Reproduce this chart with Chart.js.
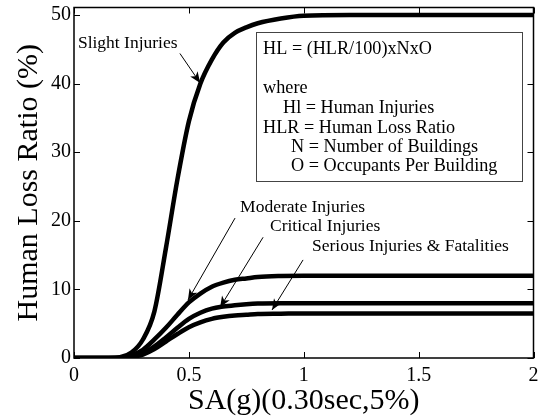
<!DOCTYPE html>
<html>
<head>
<meta charset="utf-8">
<script src="https://cdn.jsdelivr.net/npm/chart.js@4/dist/chart.umd.min.js"></script>
<style>
  body { margin: 0; background: #fff; }
  canvas { display: block; }
</style>
</head>
<body>
<canvas id="chart" width="541" height="416"></canvas>
<script>
// ── data ─────────────────────────────────────────────────
const saValues   = [0, 0.1, 0.15, 0.2, 0.25, 0.3, 0.35, 0.4, 0.45, 0.5, 0.55, 0.6, 0.65, 0.7, 0.75, 0.8, 0.9, 1.0, 1.2, 1.5, 2.0];
const slight     = [0, 0, 0, 0.1, 0.8, 2.7, 6.8, 16, 26, 34.5, 40, 43.5, 46, 47.4, 48.2, 48.8, 49.5, 49.9, 50, 50, 50];
const moderate   = [0, 0, 0, 0, 0.4, 1.2, 2.7, 4.4, 6.3, 8.1, 9.4, 10.4, 11.0, 11.4, 11.6, 11.8, 11.95, 12, 12, 12, 12];
const critical   = [0, 0, 0, 0, 0.2, 0.7, 1.7, 3.0, 4.4, 5.7, 6.6, 7.2, 7.5, 7.7, 7.85, 7.95, 8, 8, 8, 8, 8];
const serious    = [0, 0, 0, 0, 0.15, 0.5, 1.3, 2.4, 3.5, 4.5, 5.2, 5.7, 6.0, 6.2, 6.3, 6.4, 6.45, 6.5, 6.5, 6.5, 6.5];
const xTicks     = [0, 0.5, 1, 1.5, 2];
const yTicks     = [0, 10, 20, 30, 40, 50];

const SERIF = '"Liberation Serif", "Times New Roman", serif';

// ── labels + arrows (data coordinates) ───────────────────
const callouts = [
    { text: 'Slight Injuries',              at: [0.017, 45.9], from: [0.461, 44.4], to: [0.549, 40.1] },
    { text: 'Moderate Injuries',            at: [0.723, 22.0], from: [0.701, 20.4], to: [0.496, 8.45] },
    { text: 'Critical Injuries',            at: [0.853, 19.2], from: [0.823, 17.6], to: [0.636, 7.4] },
    { text: 'Serious Injuries & Fatalities', at: [1.036, 16.2], from: [0.997, 14.3], to: [0.862, 7.0] }
];
const noteBox   = { x0: 0.792, y0: 47.6, x1: 1.949, y1: 25.9 };
const noteLines = [
    { text: 'HL = (HLR/100)xNxO',          at: [0.823, 45.0] },
    { text: 'where',                       at: [0.823, 39.3] },
    { text: 'Hl = Human Injuries',         at: [0.910, 36.4] },
    { text: 'HLR = Human Loss Ratio',      at: [0.823, 33.5] },
    { text: 'N = Number of Buildings',     at: [0.945, 30.7] },
    { text: 'O = Occupants Per Building',  at: [0.945, 28.0] }
];

const toPts = ys => saValues.map((x, i) => ({ x, y: ys[i] }));

// ── frame, inward ticks, annotations ─────────────────────
const figurePlugin = {
    id: 'figure',
    afterDatasetsDraw(chart) {
        const { ctx, chartArea: a, scales: { x, y } } = chart;
        const px = v => x.getPixelForValue(v);
        const py = v => y.getPixelForValue(v);
        ctx.save();

        // frame + ticks on all sides
        ctx.strokeStyle = '#000';
        ctx.lineWidth = 1.5;
        ctx.strokeRect(a.left, a.top, a.right - a.left, a.bottom - a.top);
        ctx.lineWidth = 1;
        ctx.beginPath();
        xTicks.forEach(v => {
            const p = Math.round(px(v)) + 0.5;
            ctx.moveTo(p, a.bottom); ctx.lineTo(p, a.bottom - 6);
            ctx.moveTo(p, a.top);    ctx.lineTo(p, a.top + 6);
        });
        yTicks.forEach(v => {
            const p = Math.round(py(v)) + 0.5;
            ctx.moveTo(a.left, p);  ctx.lineTo(a.left + 6, p);
            ctx.moveTo(a.right, p); ctx.lineTo(a.right - 6, p);
        });
        ctx.stroke();

        // callouts
        ctx.fillStyle = '#000';
        ctx.font = '17.5px ' + SERIF;
        ctx.textBaseline = 'middle';
        ctx.textAlign = 'left';
        callouts.forEach(c => {
            ctx.fillText(c.text, px(c.at[0]), py(c.at[1]));
            const x0 = px(c.from[0]), y0 = py(c.from[1]);
            const x1 = px(c.to[0]),   y1 = py(c.to[1]);
            const ang = Math.atan2(y1 - y0, x1 - x0);
            ctx.lineWidth = 1;
            ctx.beginPath(); ctx.moveTo(x0, y0); ctx.lineTo(x1, y1); ctx.stroke();
            ctx.beginPath();
            ctx.moveTo(x1, y1);
            ctx.lineTo(x1 - 11 * Math.cos(ang) + 4.5 * Math.sin(ang), y1 - 11 * Math.sin(ang) - 4.5 * Math.cos(ang));
            ctx.lineTo(x1 - 8 * Math.cos(ang), y1 - 8 * Math.sin(ang));
            ctx.lineTo(x1 - 11 * Math.cos(ang) - 4.5 * Math.sin(ang), y1 - 11 * Math.sin(ang) + 4.5 * Math.cos(ang));
            ctx.closePath();
            ctx.fill();
        });

        // formula box
        const bx = px(noteBox.x0), by = py(noteBox.y0);
        ctx.fillStyle = '#fff';
        ctx.fillRect(bx, by, px(noteBox.x1) - bx, py(noteBox.y1) - by);
        ctx.strokeStyle = '#444';
        ctx.lineWidth = 1;
        ctx.strokeRect(Math.round(bx) + 0.5, Math.round(by) + 0.5, Math.round(px(noteBox.x1) - bx), Math.round(py(noteBox.y1) - by));
        ctx.fillStyle = '#000';
        ctx.font = '18.2px ' + SERIF;
        noteLines.forEach(l => ctx.fillText(l.text, px(l.at[0]), py(l.at[1])));

        ctx.restore();
    }
};

const line = (label, ys) => ({
    label,
    data: toPts(ys),
    borderColor: '#000',
    borderWidth: 4.5,
    pointRadius: 0,
    cubicInterpolationMode: 'monotone',
    fill: false
});

// keep tick-label overhang from shrinking the plot area
const noOverhang = s => { s.paddingLeft = s.paddingRight = s.paddingTop = s.paddingBottom = 0; };

new Chart(document.getElementById('chart'), {
    type: 'line',
    data: {
        datasets: [
            line('Slight Injuries', slight),
            line('Moderate Injuries', moderate),
            line('Critical Injuries', critical),
            line('Serious Injuries & Fatalities', serious)
        ]
    },
    options: {
        responsive: false,
        animation: false,
        events: [],
        layout: { padding: { left: 0, top: 7.5, right: 7.5, bottom: 0 } },
        plugins: { legend: { display: false }, tooltip: { enabled: false } },
        scales: {
            x: {
                type: 'linear', min: 0, max: 2,
                afterFit: s => { s.height = 58; noOverhang(s); },
                afterBuildTicks: s => { s.ticks = xTicks.map(v => ({ value: v })); },
                grid: { display: false, drawTicks: false },
                border: { display: false },
                ticks: { color: '#000', padding: 6, maxRotation: 0, callback: v => String(v),
                         font: { family: SERIF, size: 20 } },
                title: { display: true, text: 'SA(g)(0.30sec,5%)', color: '#000',
                         font: { family: SERIF, size: 30, lineHeight: 1 }, padding: 0 }
            },
            y: {
                min: 0, max: 51.1,
                afterFit: s => { s.width = 74; noOverhang(s); },
                afterBuildTicks: s => { s.ticks = yTicks.map(v => ({ value: v })); },
                grid: { display: false, drawTicks: false },
                border: { display: false },
                ticks: { color: '#000', padding: 3, callback: v => String(v),
                         font: { family: SERIF, size: 20 } },
                title: { display: true, text: 'Human Loss Ratio (%)', color: '#000',
                         font: { family: SERIF, size: 30, lineHeight: 1 }, padding: { top: 14, bottom: 0 } }
            }
        }
    },
    plugins: [figurePlugin]
});
</script>
</body>
</html>
